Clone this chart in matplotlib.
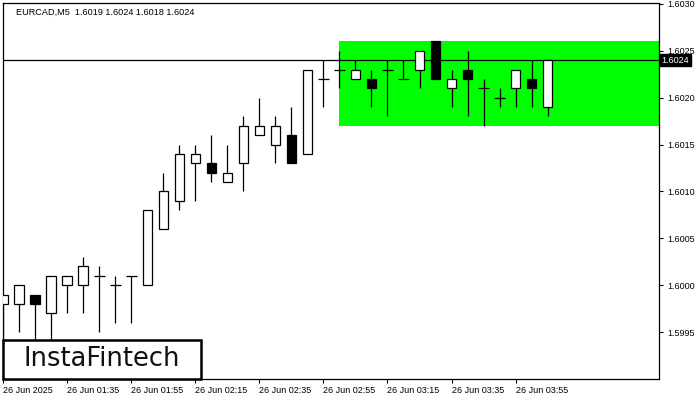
import matplotlib.pyplot as plt
from matplotlib.patches import Rectangle
from matplotlib.transforms import blended_transform_factory

# EURCAD M5 candles, 26 Jun 2025 01:15 .. 04:05
opens = [1.5998, 1.5998, 1.5999, 1.5997, 1.6000, 1.6000, 1.6001, 1.6000, 1.6001, 1.6000,
         1.6006, 1.6009, 1.6013, 1.6013, 1.6011, 1.6013, 1.6016, 1.6015, 1.6016, 1.6014,
         1.6022, 1.6023, 1.6022, 1.6022, 1.6023, 1.6022, 1.6023, 1.6026, 1.6021, 1.6023,
         1.6021, 1.6020, 1.6021, 1.6022, 1.6019]
highs = [1.5999, 1.6000, 1.5999, 1.6001, 1.6001, 1.6003, 1.6002, 1.6001, 1.6001, 1.6008,
         1.6012, 1.6015, 1.6015, 1.6016, 1.6015, 1.6018, 1.6020, 1.6018, 1.6019, 1.6023,
         1.6024, 1.6025, 1.6024, 1.6023, 1.6024, 1.6024, 1.6025, 1.6026, 1.6023, 1.6025,
         1.6022, 1.6021, 1.6023, 1.6024, 1.6024]
lows = [1.5994, 1.5995, 1.5993, 1.5993, 1.5997, 1.5997, 1.5995, 1.5996, 1.5996, 1.6000,
        1.6006, 1.6008, 1.6009, 1.6011, 1.6011, 1.6010, 1.6016, 1.6013, 1.6013, 1.6014,
        1.6019, 1.6021, 1.6022, 1.6019, 1.6018, 1.6022, 1.6021, 1.6022, 1.6019, 1.6018,
        1.6017, 1.6019, 1.6019, 1.6019, 1.6018]
closes = [1.5999, 1.6000, 1.5998, 1.6001, 1.6001, 1.6002, 1.6001, 1.6000, 1.6001, 1.6008,
          1.6010, 1.6014, 1.6014, 1.6012, 1.6012, 1.6017, 1.6017, 1.6017, 1.6013, 1.6023,
          1.6022, 1.6023, 1.6023, 1.6021, 1.6023, 1.6022, 1.6025, 1.6022, 1.6022, 1.6022,
          1.6021, 1.6020, 1.6023, 1.6021, 1.6024]

tick_idx = [0, 4, 8, 12, 16, 20, 24, 28, 32]
tick_labels = ["26 Jun 2025", "26 Jun 01:35", "26 Jun 01:55", "26 Jun 02:15", "26 Jun 02:35",
               "26 Jun 02:55", "26 Jun 03:15", "26 Jun 03:35", "26 Jun 03:55"]
price_ticks = [1.5995, 1.6000, 1.6005, 1.6010, 1.6015, 1.6020, 1.6025, 1.6030]

zone_start = 21
zone_low = 1.6017
zone_high = 1.6026
last_price = 1.6024
title = "EURCAD,M5  1.6019 1.6024 1.6018 1.6024"

fig = plt.figure(figsize=(7, 4), dpi=100)
ax = fig.add_axes([3 / 700, 21 / 400, 656 / 700, 376 / 400])
ax.set_xlim(0.0, 40.95)
ax.set_ylim(1.5990, 1.60301)

# rectangle pattern zone
ax.add_patch(Rectangle((zone_start, zone_low), 100, zone_high - zone_low,
                       facecolor="#00ff00", edgecolor="none", zorder=0))
ax.axhline(last_price, color="black", lw=0.9, zorder=1)

w = 0.58
for i in range(len(opens)):
    o, h, l, c = opens[i], highs[i], lows[i], closes[i]
    ax.vlines(i, l, h, color="black", lw=0.9, zorder=2)
    if o == c:
        ax.hlines(o, i - w / 2 - 0.05, i + w / 2 + 0.05, color="black", lw=0.9, zorder=3)
    else:
        face = "white" if c > o else "black"
        ax.add_patch(Rectangle((i - w / 2, min(o, c)), w, abs(c - o),
                               facecolor=face, edgecolor="black", lw=0.9, zorder=3))

for s in ax.spines.values():
    s.set_linewidth(0.9)

ax.yaxis.tick_right()
ax.set_yticks(price_ticks)
ax.set_yticklabels([f"{p:.4f}" for p in price_ticks])
ax.set_xticks(tick_idx)
ax.set_xticklabels(tick_labels, ha="left")
ax.tick_params(axis="y", direction="out", length=3, pad=3, labelsize=6.5, width=0.8)
ax.tick_params(axis="x", direction="out", length=3, pad=2, labelsize=6.5, width=0.8)
for lab in ax.get_xticklabels() + ax.get_yticklabels():
    lab.set_fontfamily("Liberation Sans")

trans = blended_transform_factory(ax.transAxes, ax.transData)
ax.text(1.004, last_price, f"{last_price:.4f}", transform=trans, color="white",
        fontsize=6.5, family="Liberation Sans", va="center", ha="left",
        bbox=dict(facecolor="black", edgecolor="black", pad=1.0), clip_on=False, zorder=5)

ax.text(0.0198, 0.976, title, transform=ax.transAxes, fontsize=6.6,
        family="Liberation Sans", va="center", ha="left")

# logo
ax.add_patch(Rectangle((0, 0), 0.302, 0.104, transform=ax.transAxes, facecolor="white",
                       edgecolor="black", lw=1.8, zorder=6, clip_on=False))
ax.text(0.151, 0.052, "InstaFintech", transform=ax.transAxes, fontsize=18.5,
        family="DejaVu Sans", color="#111111", ha="center", va="center", zorder=7)

fig.savefig("out.png", dpi=100)
